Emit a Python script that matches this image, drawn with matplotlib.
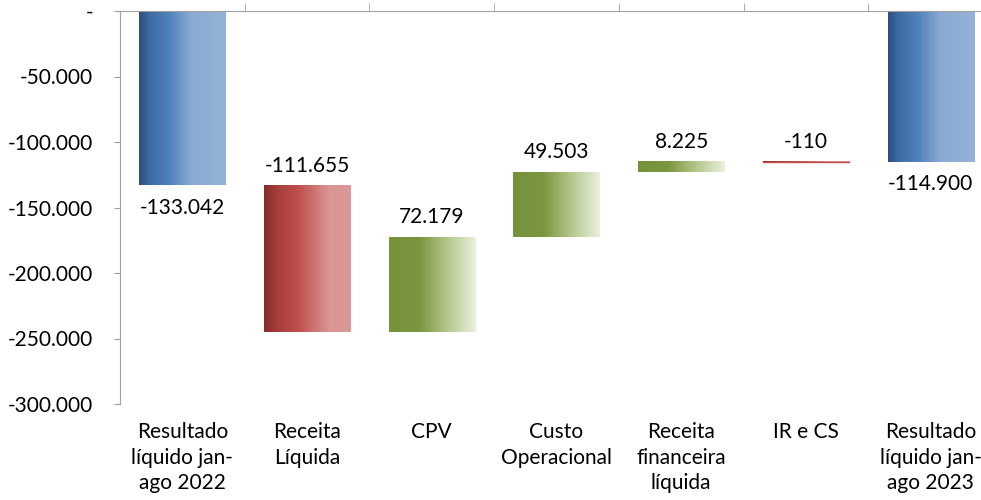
import numpy as np
import matplotlib.pyplot as plt
from matplotlib.colors import LinearSegmentedColormap
from matplotlib.ticker import FuncFormatter, FixedLocator

plt.rcParams['font.family'] = ['Lato', 'DejaVu Sans']

#Data (R$ mil)
categories = ["Resultado\nlíquido jan-\nago 2022", "Receita\nLíquida", "CPV",
              "Custo\nOperacional", "Receita\nfinanceira\nlíquida", "IR e CS",
              "Resultado\nlíquido jan-\nago 2023"]
start_value = -133042
changes = [-111655, 72179, 49503, 8225, -110]
end_value = -114900
value_labels = ["-133.042", "-111.655", "72.179", "49.503", "8.225", "-110", "-114.900"]

#Waterfall geometry
levels = start_value + np.cumsum([0] + changes)
bottoms = [0] + list(levels[:-1]) + [0]
heights = [start_value] + changes + [end_value]

#Gradients (left -> right)
blue = LinearSegmentedColormap.from_list("b", [(0, "#2c4c7c"), (0.12, "#3e6aa3"), (0.35, "#5082be"),
                                               (0.6, "#8aaad3"), (1, "#95b3d7")])
red = LinearSegmentedColormap.from_list("r", [(0, "#8a2b2b"), (0.15, "#a53e3c"), (0.4, "#c0504d"),
                                              (0.75, "#d99694"), (1, "#da9896")])
green = LinearSegmentedColormap.from_list("g", [(0, "#76923c"), (0.35, "#7a963f"), (0.6, "#a7bd7a"),
                                                (1, "#ebf1de")])

kinds = ["total"] + ["up" if c < 0 else "down" for c in changes] + ["total"]
cmaps = {"total": blue, "up": red, "down": green}

fig = plt.figure(figsize=(9.81, 5), dpi=100)
ax = fig.add_axes([120 / 981, 96 / 500, 873 / 981, 393 / 500])

x = np.arange(len(categories))
bars = ax.bar(x, heights, bottom=bottoms, width=0.69, color="none", edgecolor="none")
grad = np.linspace(0, 1, 256).reshape(1, -1)
for b, k in zip(bars, kinds):
    x0, y0 = b.get_x(), b.get_y()
    x1, y1 = x0 + b.get_width(), y0 + b.get_height()
    im = ax.imshow(grad, cmap=cmaps[k], extent=[x0, x1, min(y0, y1), max(y0, y1)],
                   aspect="auto", interpolation="bilinear", zorder=2)
    im.set_clip_path(b)

#IR e CS is too small to show as a fill
ir = bars[5]
ax.plot([ir.get_x(), ir.get_x() + ir.get_width()], [levels[-1]] * 2, color="#c0504d",
        lw=1, zorder=3)

#Value labels
for i, b in enumerate(bars):
    top = max(b.get_y(), b.get_y() + b.get_height())
    low = min(b.get_y(), b.get_y() + b.get_height())
    if kinds[i] == "total":
        ax.annotate(value_labels[i], (i, low), xytext=(0, -9), textcoords="offset points",
                    ha="center", va="top", fontsize=15)
    else:
        ax.annotate(value_labels[i], (i, top), xytext=(0, 7), textcoords="offset points",
                    ha="center", va="bottom", fontsize=15)

ax.set_xlim(-0.5, len(categories) - 0.5)
ax.set_ylim(-300000, 0)

def fmt(v, pos):
    if v == 0:
        return "-"
    return f"{v:,.0f}".replace(",", ".")

ax.yaxis.set_major_locator(FixedLocator(np.arange(-300000, 1, 50000)))
ax.yaxis.set_major_formatter(FuncFormatter(fmt))
ax.tick_params(axis="y", labelsize=15, length=4.5, color="#a0a0a0", pad=15)

ax.set_xticks(x)
ax.set_xticklabels(categories, fontsize=15, linespacing=1.35, va="top")
ax.tick_params(axis="x", which="major", length=0, pad=13)
ax.set_xticks(np.arange(0.5, len(categories) - 0.5), minor=True)
ax.tick_params(axis="x", which="minor", top=True, bottom=False, direction="out",
               length=6, color="#a0a0a0")

for s in ["bottom", "right"]:
    ax.spines[s].set_visible(False)
for s in ["left", "top"]:
    ax.spines[s].set_color("#a0a0a0")

fig.savefig("out.png", dpi=100)
